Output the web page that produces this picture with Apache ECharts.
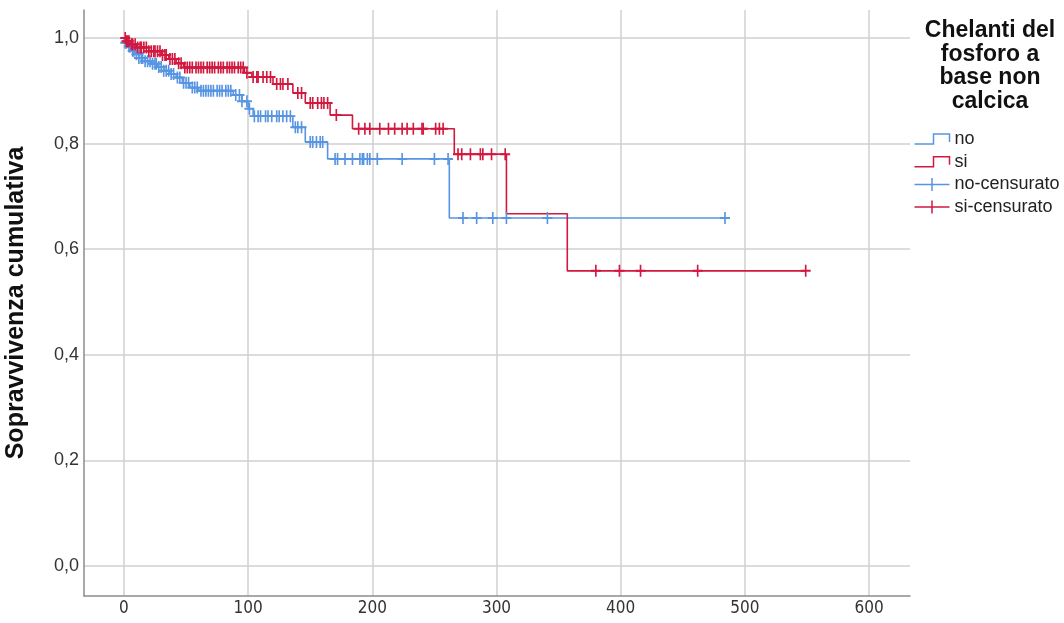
<!DOCTYPE html>
<html>
<head>
<meta charset="utf-8">
<script src="https://cdn.jsdelivr.net/npm/echarts@6/dist/echarts.min.js"></script>
<style>
  html, body { margin: 0; padding: 0; background: #ffffff; }
  #chart { width: 1064px; height: 623px; }
</style>
</head>
<body>
<div id="chart"></div>
<script>
// Kaplan–Meier estimates: event times and the survival right after each event
const noStepTimes = [0, 1, 3, 6, 9, 12, 17, 22, 27, 32, 37, 42, 47, 53, 60, 88, 95, 100, 104, 136, 146, 164, 262];
const noStepSurv  = [1.0, 0.991, 0.984, 0.976, 0.969, 0.962, 0.956, 0.951, 0.945, 0.938, 0.932, 0.925, 0.915, 0.906, 0.900, 0.892, 0.880, 0.866, 0.852, 0.831, 0.803, 0.771, 0.659];
const noEndTime = 484;

const siStepTimes = [0, 2, 5, 10, 20, 30, 36, 42, 48, 97, 103, 120, 136, 146, 166, 184, 266, 308, 357];
const siStepSurv  = [1.0, 0.994, 0.988, 0.982, 0.975, 0.968, 0.960, 0.952, 0.944, 0.934, 0.926, 0.913, 0.896, 0.877, 0.854, 0.828, 0.780, 0.667, 0.559];
const siEndTime = 549;

// Censored follow-up times
const noCensored = [1, 2, 4, 5, 7, 8, 10, 12, 14, 15, 17, 19, 21, 23, 25, 26, 28, 30, 32, 34, 36, 38, 40, 43, 45, 48, 50, 52, 55, 57, 59, 62, 64, 66, 68, 70, 72, 75, 77, 79, 82, 84, 86, 90, 93, 95, 99, 101,
  105, 108, 110, 114, 116, 119, 123, 125, 128, 131, 134,
  138, 140, 143,
  150, 152, 155, 158, 160,
  170, 172, 178, 184, 190, 192, 193, 196, 198, 204, 224, 250, 261,
  273, 284, 297, 308, 341, 484];
const siCensored = [1, 2, 3, 4, 6, 7, 9, 11, 13, 14, 16, 18, 20, 22, 24, 25, 27, 29, 31, 33, 34, 37, 39, 41, 44, 46, 49, 51, 53, 55, 58, 60, 62, 64, 67, 69, 71, 73, 76, 78, 80, 83, 85, 87, 89, 92, 94, 96, 99,
  104, 107, 108, 112, 115, 118,
  123, 126, 128, 132,
  140, 143,
  150, 152, 156, 159, 161, 164,
  171,
  189, 194, 198, 206, 213, 218, 224, 228, 233, 240, 241, 251, 254, 257,
  269, 272, 279, 287, 289, 296, 307,
  380, 399, 416, 462, 549];

const xTickValues = [0, 100, 200, 300, 400, 500, 600];
const yTickValues = [0, 0.2, 0.4, 0.6, 0.8, 1.0];
const legendTitle = 'Chelanti del\nfosforo a\nbase non\ncalcica';
const legendLabels = ['no', 'si', 'no-censurato', 'si-censurato'];
const yAxisTitle = 'Sopravvivenza cumulativa';

const BLUE = '#5795E2';
const RED = '#D2183F';
const GRID = '#d0d0d0';
const AXIS = '#8c8c8c';
const FONT = "'Liberation Sans', Arial, sans-serif";
const NARROW = "'Liberation Sans Narrow', 'DejaVu Sans Condensed', 'Liberation Sans', sans-serif";

// Step polyline: each event point plus the last follow-up time
function stepLine(times, surv, endTime) {
  const pts = times.map((t, i) => [t, surv[i]]);
  pts.push([endTime, surv[surv.length - 1]]);
  return pts;
}
// Survival value of the step function at time t
function survivalAt(times, surv, t) {
  let s = surv[0];
  for (let i = 0; i < times.length; i++) if (times[i] <= t) s = surv[i];
  return s;
}
function censorPoints(censored, times, surv) {
  return censored.map(t => [t, survivalAt(times, surv, t)]);
}

const STEP_ICON = 'path://M0,10 L19,10 L19,0 L35,0 L35,8';
const CROSS_ICON = 'path://M0,6.5 L35,6.5 M17.5,0 L17.5,13';
const CROSS_MARK = 'path://M5,0 L5,12 M0,6 L10,6';

const chart = echarts.init(document.getElementById('chart'), null, { renderer: 'canvas' });

chart.setOption({
  animation: false,
  backgroundColor: '#ffffff',
  title: {
    text: legendTitle,
    left: 990,
    top: 19,
    padding: 0,
    textAlign: 'center',
    textStyle: { fontFamily: FONT, fontSize: 23, fontWeight: 'bold', color: '#111', lineHeight: 23.5 }
  },
  legend: {
    orient: 'vertical',
    left: 912,
    top: 130,
    padding: 0,
    itemWidth: 35,
    itemHeight: 13,
    itemGap: 4.7,
    selectedMode: false,
    textStyle: { fontFamily: FONT, fontSize: 18, color: '#222', lineHeight: 18 },
    data: [
      { name: legendLabels[0], icon: STEP_ICON, itemStyle: { color: 'none', borderColor: BLUE, borderWidth: 1.5 } },
      { name: legendLabels[1], icon: STEP_ICON, itemStyle: { color: 'none', borderColor: RED, borderWidth: 1.5 } },
      { name: legendLabels[2], icon: CROSS_ICON, itemStyle: { color: 'none', borderColor: BLUE, borderWidth: 1.5 } },
      { name: legendLabels[3], icon: CROSS_ICON, itemStyle: { color: 'none', borderColor: RED, borderWidth: 1.5 } }
    ]
  },
  grid: { left: 84, right: 154, top: 10, bottom: 27, containLabel: false, outerBoundsMode: 'none' },
  xAxis: {
    type: 'value',
    min: -32.2,
    max: 633,
    axisLine: { show: true, onZero: false, lineStyle: { color: AXIS, width: 1.5 } },
    axisTick: { show: false, customValues: xTickValues },
    axisLabel: {
      customValues: xTickValues,
      formatter: v => String(v),
      margin: 4,
      fontFamily: NARROW,
      fontSize: 17,
      color: '#333'
    },
    splitLine: { show: true, lineStyle: { color: GRID, width: 1.5 } }
  },
  yAxis: {
    type: 'value',
    min: -0.0568,
    max: 1.053,
    name: yAxisTitle,
    nameLocation: 'middle',
    nameGap: 55,
    nameRotate: 90,
    nameTextStyle: { fontFamily: FONT, fontSize: 25, fontWeight: 'bold', color: '#111' },
    axisLine: { show: true, onZero: false, lineStyle: { color: AXIS, width: 1.5 } },
    axisTick: { show: false, customValues: yTickValues },
    axisLabel: {
      customValues: yTickValues,
      formatter: v => v.toFixed(1).replace('.', ','),
      margin: 5,
      fontFamily: FONT,
      fontSize: 18,
      color: '#333'
    },
    splitLine: { show: true, lineStyle: { color: GRID, width: 1.5 } }
  },
  series: [
    {
      name: legendLabels[0], type: 'line', step: 'end', showSymbol: false, silent: true,
      data: stepLine(noStepTimes, noStepSurv, noEndTime),
      lineStyle: { color: BLUE, width: 1.6 }, itemStyle: { color: BLUE }, z: 2
    },
    {
      name: legendLabels[1], type: 'line', step: 'end', showSymbol: false, silent: true,
      data: stepLine(siStepTimes, siStepSurv, siEndTime),
      lineStyle: { color: RED, width: 1.6 }, itemStyle: { color: RED }, z: 3
    },
    {
      name: legendLabels[2], type: 'scatter', silent: true,
      symbol: CROSS_MARK, symbolSize: [10, 12],
      data: censorPoints(noCensored, noStepTimes, noStepSurv),
      itemStyle: { color: 'none', borderColor: BLUE, borderWidth: 1.8, opacity: 1 }, z: 4
    },
    {
      name: legendLabels[3], type: 'scatter', silent: true,
      symbol: CROSS_MARK, symbolSize: [10, 12],
      data: censorPoints(siCensored, siStepTimes, siStepSurv),
      itemStyle: { color: 'none', borderColor: RED, borderWidth: 1.8, opacity: 1 }, z: 5
    }
  ]
});
</script>
</body>
</html>
